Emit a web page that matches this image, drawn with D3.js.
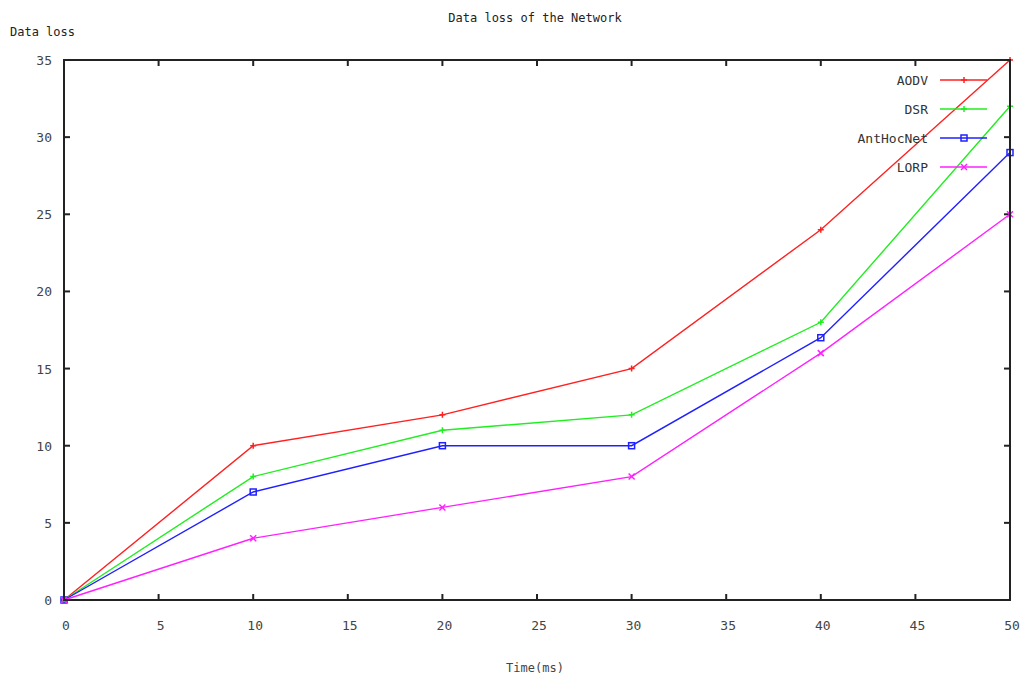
<!DOCTYPE html>
<html><head><meta charset="utf-8">
<script src="https://cdn.jsdelivr.net/npm/d3@7"></script>
<style>body{margin:0;background:#fff}svg{display:block}</style>
</head><body>
<svg id="c" width="1023" height="679"></svg>
<script>
const times = [0, 10, 20, 30, 40, 50];
const aodv = [0, 10, 12, 15, 24, 35];
const dsr = [0, 8, 11, 12, 18, 32];
const antHocNet = [0, 7, 10, 10, 17, 29];
const lorp = [0, 4, 6, 8, 16, 25];
const seriesNames = ["AODV", "DSR", "AntHocNet", "LORP"];
const seriesColors = ["#ff2020", "#20ee20", "#2020ff", "#ff20ff"];
const xTicks = [0, 5, 10, 15, 20, 25, 30, 35, 40, 45, 50];
const yTicks = [0, 5, 10, 15, 20, 25, 30, 35];
const seriesData = [aodv, dsr, antHocNet, lorp];
const markers = ["plus", "plus", "square", "cross"];

const svg = d3.select("#c");
const font = "'DejaVu Sans Mono', monospace";
const L = 64, R = 1010, T = 60, B = 600;
const x = d3.scaleLinear().domain([0, 50]).range([L, R]);
const y = d3.scaleLinear().domain([0, 35]).range([B, T]);

const tl = 6;
const g = svg.append("g").attr("stroke", "#222").attr("stroke-width", 2);
xTicks.forEach(t => {
  g.append("line").attr("x1", x(t)).attr("x2", x(t)).attr("y1", B).attr("y2", B - tl);
  g.append("line").attr("x1", x(t)).attr("x2", x(t)).attr("y1", T).attr("y2", T + tl);
});
yTicks.forEach(t => {
  g.append("line").attr("x1", L).attr("x2", L + tl).attr("y1", y(t)).attr("y2", y(t));
  g.append("line").attr("x1", R).attr("x2", R - tl).attr("y1", y(t)).attr("y2", y(t));
});

svg.append("g").selectAll("text").data(xTicks).join("text")
  .attr("x", d => x(d) + 2).attr("y", B + 30).attr("text-anchor", "middle")
  .attr("font-family", font).attr("font-size", 13).attr("fill", "#444").text(d => d);
svg.append("g").selectAll("text").data(yTicks).join("text")
  .attr("x", L - 12).attr("y", d => y(d) + 5).attr("text-anchor", "end")
  .attr("font-family", font).attr("font-size", 13).attr("fill", "#444").text(d => d);

svg.append("text").attr("x", 535).attr("y", 22).attr("text-anchor", "middle")
  .attr("font-family", font).attr("font-size", 12).attr("fill", "#222").text("Data loss of the Network");
svg.append("text").attr("x", 10).attr("y", 36)
  .attr("font-family", font).attr("font-size", 12).attr("fill", "#222").text("Data loss");
svg.append("text").attr("x", 535).attr("y", 672).attr("text-anchor", "middle")
  .attr("font-family", font).attr("font-size", 12).attr("fill", "#444").text("Time(ms)");

function marker(sel, type, cx, cy, color) {
  const s = 3;
  if (type === "plus") {
    sel.append("path").attr("d", `M${cx - s},${cy}H${cx + s}M${cx},${cy - s}V${cy + s}`)
      .attr("stroke", color).attr("stroke-width", 1.5).attr("fill", "none");
  } else if (type === "square") {
    sel.append("rect").attr("x", cx - 3).attr("y", cy - 3).attr("width", 6).attr("height", 6)
      .attr("stroke", color).attr("stroke-width", 1.5).attr("fill", "none");
  } else {
    sel.append("path").attr("d", `M${cx - s},${cy - s}L${cx + s},${cy + s}M${cx - s},${cy + s}L${cx + s},${cy - s}`)
      .attr("stroke", color).attr("stroke-width", 1.5).attr("fill", "none");
  }
}

const line = d3.line().x((d, i) => x(times[i])).y(d => y(d));
seriesData.forEach((vals, k) => {
  const c = seriesColors[k];
  svg.append("path").datum(vals).attr("d", line).attr("fill", "none")
    .attr("stroke", c).attr("stroke-width", 1.4);
  const mg = svg.append("g");
  vals.forEach((v, i) => marker(mg, markers[k], x(times[i]), y(v), c));
});

seriesNames.forEach((n, k) => {
  const ly = 80 + k * 29;
  svg.append("text").attr("x", 928).attr("y", ly + 5).attr("text-anchor", "end")
    .attr("font-family", font).attr("font-size", 13).attr("fill", "#333").text(n);
  svg.append("line").attr("x1", 940).attr("x2", 987).attr("y1", ly).attr("y2", ly)
    .attr("stroke", seriesColors[k]).attr("stroke-width", 1.4);
  marker(svg, markers[k], 964, ly, seriesColors[k]);
});

svg.append("rect").attr("x", L).attr("y", T).attr("width", R - L).attr("height", B - T)
  .attr("fill", "none").attr("stroke", "#222").attr("stroke-width", 2);
</script>
</body></html>
